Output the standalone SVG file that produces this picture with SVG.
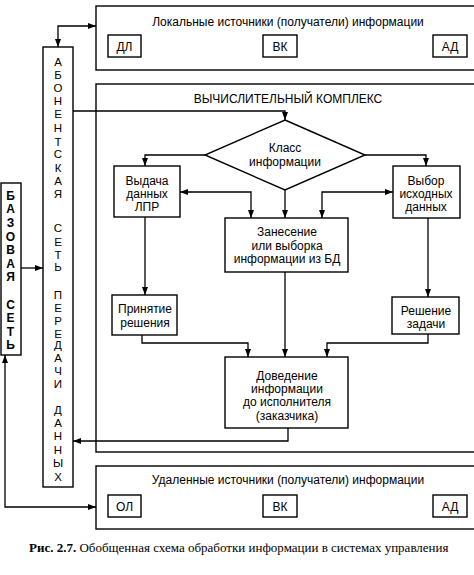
<svg xmlns="http://www.w3.org/2000/svg" width="474" height="575" viewBox="0 0 474 575">
<defs>
<marker id="ah" viewBox="0 0 8 6" refX="8" refY="3" markerWidth="8" markerHeight="6" markerUnits="userSpaceOnUse" orient="auto-start-reverse">
<path d="M0,0 L8,3 L0,6 z" fill="#000"/>
</marker>
<style>
.b{fill:#fff;stroke:#000;stroke-width:1.4}
.c{fill:none;stroke:#000;stroke-width:1.3}
.t{font-family:"Liberation Sans",Arial,sans-serif;font-size:12px;fill:#000;text-anchor:middle}
.v{font-family:"Liberation Sans",Arial,sans-serif;font-size:11.5px;fill:#000;text-anchor:middle}
.vb{font-family:"Liberation Sans",Arial,sans-serif;font-size:12px;font-weight:bold;fill:#000;text-anchor:middle}
.cap{font-family:"Liberation Serif","Times New Roman",serif;font-size:13px;fill:#000}
</style>
</defs>
<rect width="474" height="575" fill="#fff"/>

<g id="local">
<rect class="b" x="96" y="6" width="390" height="64"/>
<text class="t" x="288" y="26">Локальные источники (получатели) информации</text>
<rect class="b" x="108" y="35" width="33" height="22"/><text class="t" x="124.5" y="50.5">ДЛ</text>
<rect class="b" x="263" y="35" width="34" height="22"/><text class="t" x="280" y="50.5">ВК</text>
<rect class="b" x="433" y="35" width="34" height="22"/><text class="t" x="450" y="50.5">АД</text>
</g>

<g id="complex">
<rect class="b" x="96" y="84" width="390" height="368"/>
<text class="t" x="288" y="103">ВЫЧИСЛИТЕЛЬНЫЙ КОМПЛЕКС</text>
</g>

<g id="remote">
<rect class="b" x="96" y="466" width="390" height="63"/>
<text class="t" x="288" y="484">Удаленные источники (получатели) информации</text>
<rect class="b" x="108" y="495" width="33" height="22"/><text class="t" x="124.5" y="510.5">ОЛ</text>
<rect class="b" x="263" y="495" width="34" height="22"/><text class="t" x="280" y="510.5">ВК</text>
<rect class="b" x="433" y="495" width="34" height="22"/><text class="t" x="450" y="510.5">АД</text>
</g>

<g id="base">
<rect class="b" x="1" y="183" width="20" height="172"/>
<text class="vb" x="10.5"><tspan x="10.5" y="199.5">Б</tspan><tspan x="10.5" y="213">А</tspan><tspan x="10.5" y="226.5">З</tspan><tspan x="10.5" y="240.5">О</tspan><tspan x="10.5" y="254">В</tspan><tspan x="10.5" y="267.5">А</tspan><tspan x="10.5" y="281">Я</tspan><tspan x="10.5" y="308.5">С</tspan><tspan x="10.5" y="322">Е</tspan><tspan x="10.5" y="335.5">Т</tspan><tspan x="10.5" y="349">Ь</tspan></text>
</g>

<g id="subscriber">
<rect class="b" x="43" y="47" width="30" height="440"/>
<text class="v" x="58"><tspan x="58" y="66">А</tspan><tspan x="58" y="79">Б</tspan><tspan x="58" y="92">О</tspan><tspan x="58" y="105">Н</tspan><tspan x="58" y="118">Е</tspan><tspan x="58" y="132">Н</tspan><tspan x="58" y="146">Т</tspan><tspan x="58" y="158">С</tspan><tspan x="58" y="172">К</tspan><tspan x="58" y="185">А</tspan><tspan x="58" y="198">Я</tspan><tspan x="58" y="232">С</tspan><tspan x="58" y="246">Е</tspan><tspan x="58" y="259">Т</tspan><tspan x="58" y="271">Ь</tspan><tspan x="58" y="299">П</tspan><tspan x="58" y="312">Е</tspan><tspan x="58" y="325">Р</tspan><tspan x="58" y="338">Е</tspan><tspan x="58" y="349">Д</tspan><tspan x="58" y="362">А</tspan><tspan x="58" y="375">Ч</tspan><tspan x="58" y="388">И</tspan><tspan x="58" y="414">Д</tspan><tspan x="58" y="427">А</tspan><tspan x="58" y="440">Н</tspan><tspan x="58" y="454">Н</tspan><tspan x="58" y="467">Ы</tspan><tspan x="58" y="481">Х</tspan></text>
</g>

<g id="class">
<polygon class="b" points="285,120 365,155 285,190 205,155"/>
<text class="t" x="285" y="152">Класс</text>
<text class="t" x="285" y="166">информации</text>
</g>

<g id="issue">
<rect class="b" x="114" y="166" width="66" height="51"/>
<text class="t" x="147" y="185">Выдача</text>
<text class="t" x="147" y="198">данных</text>
<text class="t" x="147" y="211">ЛПР</text>
</g>

<g id="select">
<rect class="b" x="393" y="166" width="67" height="52"/>
<text class="t" x="426" y="185">Выбор</text>
<text class="t" x="426" y="198">исходных</text>
<text class="t" x="426" y="211">данных</text>
</g>

<g id="db">
<rect class="b" x="225" y="218" width="123" height="54"/>
<text class="t" x="287" y="236">Занесение</text>
<text class="t" x="287" y="250">или выборка</text>
<text class="t" x="287" y="263">информации из БД</text>
</g>

<g id="decision">
<rect class="b" x="112" y="295" width="65" height="40"/>
<text class="t" x="145" y="313">Принятие</text>
<text class="t" x="145" y="327">решения</text>
</g>

<g id="task">
<rect class="b" x="392" y="297" width="67" height="37"/>
<text class="t" x="426" y="315">Решение</text>
<text class="t" x="426" y="328">задачи</text>
</g>

<g id="deliver">
<rect class="b" x="225" y="357" width="123" height="71"/>
<text class="t" x="287" y="380">Доведение</text>
<text class="t" x="287" y="393">информации</text>
<text class="t" x="287" y="406">до исполнителя</text>
<text class="t" x="287" y="420">(заказчика)</text>
</g>

<g id="connectors">
<path class="c" d="M58,47 L58,26 L96,26" marker-start="url(#ah)" marker-end="url(#ah)"/>
<path class="c" d="M73,111 L285,111 L285,120" marker-end="url(#ah)"/>
<path class="c" d="M205,155 L145,155 L145,166" marker-end="url(#ah)"/>
<path class="c" d="M365,155 L426,155 L426,166" marker-end="url(#ah)"/>
<path class="c" d="M285,190 L285,218" marker-end="url(#ah)"/>
<path class="c" d="M180,192 L251,192 L251,218" marker-start="url(#ah)" marker-end="url(#ah)"/>
<path class="c" d="M393,192 L322,192 L322,218" marker-start="url(#ah)" marker-end="url(#ah)"/>
<path class="c" d="M145,217 L145,295" marker-end="url(#ah)"/>
<path class="c" d="M428,218 L428,297" marker-end="url(#ah)"/>
<path class="c" d="M142,335 L142,343 L248,343 L248,357" marker-end="url(#ah)"/>
<path class="c" d="M285,272 L285,357" marker-end="url(#ah)"/>
<path class="c" d="M428,334 L428,343 L327,343 L327,357" marker-end="url(#ah)"/>
<path class="c" d="M288,428 L288,441 L73,441" marker-end="url(#ah)"/>
<path class="c" d="M21,268 L43,268" marker-end="url(#ah)"/>
<path class="c" d="M96,507 L5,507 L5,355" marker-start="url(#ah)" marker-end="url(#ah)"/>
</g>

<text class="cap" x="29" y="552"><tspan font-weight="bold">Рис. 2.7.</tspan> Обобщенная схема обработки информации в системах управления</text>
</svg>
